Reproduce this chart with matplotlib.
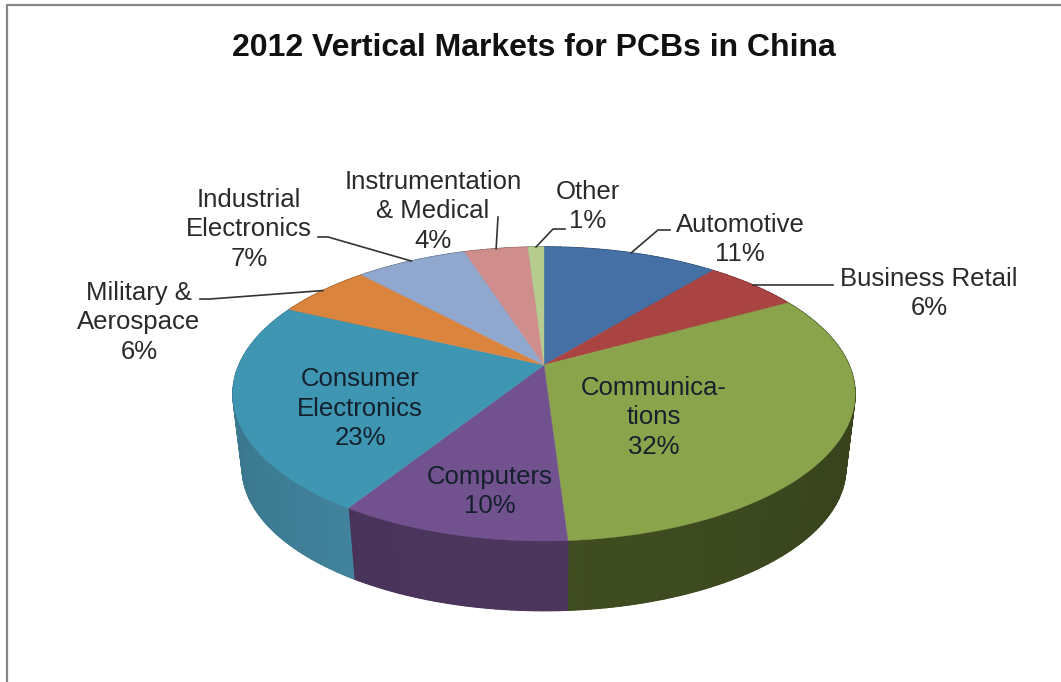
import matplotlib
matplotlib.use('Agg')
import matplotlib.pyplot as plt
from matplotlib.collections import PolyCollection
from matplotlib.colors import to_rgb
import numpy as np

title = '2012 Vertical Markets for PCBs in China'
categories = ['Automotive', 'Business Retail', 'Communica-\ntions', 'Computers',
              'Consumer\nElectronics', 'Military &\nAerospace', 'Industrial\nElectronics',
              'Instrumentation\n& Medical', 'Other']
values = [11, 6, 32, 10, 23, 6, 7, 4, 1]

top_colors = ['#4470a6', '#aa4442', '#8aa44c', '#71528f', '#3f96b2',
              '#db843d', '#91a8ce', '#cf8e8c', '#b5cc8e']
side_colors = ['#2c4a70', '#702d2c', '#3b471e', '#473257', '#3f8098',
               '#92582a', '#617087', '#8a5f5d', '#78885f']

# label centres, in pixels of the picture
label_pos = [(740, 239.5), (929, 293.5), (654, 417.5), (490, 491.5), (360, 408.5),
             (139, 322.5), (249, 229.5), (433, 211.5), (588, 206.5)]
# leader lines: elbow and end of line, None = label sits on the slice
leaders = [[(658, 230), (670, 230)], [(833, 285)], None, None, None,
           [(210, 299), (200, 299)], [(328, 237), (318, 237)], [(498, 217)],
           [(553, 229), (565, 229)]]

CX, CY = 544, 365
R = 305
PERSP = -0.197
A = 141.3
BOTTOM_K = 0.97
BOTTOM_DY = 75


def project(theta, k=1.0, dy=0.0):
    # theta clockwise from the back of the pie, perspective like the excel 3d pie
    u = np.sin(theta)
    v = -np.cos(theta)
    d = 1 + PERSP * v
    return CX + k * R * u / d, CY + dy + k * A * v / d


fig = plt.figure(figsize=(10.61, 6.82), dpi=100)
ax = fig.add_axes([0, 0, 1, 1])
ax.set_xlim(0, 1061)
ax.set_ylim(682, 0)
ax.axis('off')

# frame, only the left and top are in the crop
ax.plot([6.5, 6.5, 1061], [682, 5, 5], color='#868686', lw=1.6)

total = sum(values)
edges = np.cumsum([0] + values) / total * 2 * np.pi

# side of the pie first, the top covers whatever is behind
for i in range(len(values)):
    th = np.linspace(edges[i], edges[i + 1], max(values[i] * 3, 4))
    x1, y1 = project(th)
    x2, y2 = project(th, BOTTOM_K, BOTTOM_DY)
    base = np.array(to_rgb(side_colors[i]))
    # solid piece under the strips so the seams do not show
    ax.fill(np.r_[x1, x2[::-1]], np.r_[y1, y2[::-1]], color=side_colors[i], lw=0.4)
    polys = []
    cols = []
    for j in range(len(th) - 1):
        polys.append([(x1[j], y1[j]), (x1[j + 1], y1[j + 1]), (x2[j + 1], y2[j + 1]), (x2[j], y2[j])])
        # slightly lighter toward the front
        shade = 0.94 + 0.14 * max(0, -np.cos(th[j])) ** 3
        cols.append(np.clip(base * shade, 0, 1))
    ax.add_collection(PolyCollection(polys, facecolors=cols, edgecolors=cols, linewidths=1.0))

for i in range(len(values)):
    th = np.linspace(edges[i], edges[i + 1], max(values[i] * 6, 6))
    x, y = project(th)
    ax.fill(np.r_[CX, x], np.r_[CY, y], color=top_colors[i], lw=0.3)

text_font = ['Liberation Sans', 'DejaVu Sans']
ax.text(534, 47.5, title, ha='center', va='center', fontsize=23, fontweight='bold',
        color='#111111', family=text_font)

for i in range(len(values)):
    mid = (edges[i] + edges[i + 1]) / 2
    if leaders[i] is not None:
        ax_, ay_ = project(mid)
        xs = [ax_] + [p[0] for p in leaders[i]]
        ys = [ay_] + [p[1] for p in leaders[i]]
        ax.plot(xs, ys, color='#333333', lw=1.2)
    inside = leaders[i] is None
    ax.text(label_pos[i][0], label_pos[i][1], f'{categories[i]}\n{values[i]}%',
            ha='center', va='center', fontsize=18.5, linespacing=1.31, family=text_font,
            color='#14202c' if inside else '#2a2a2a')

plt.savefig('out.png', dpi=100)
